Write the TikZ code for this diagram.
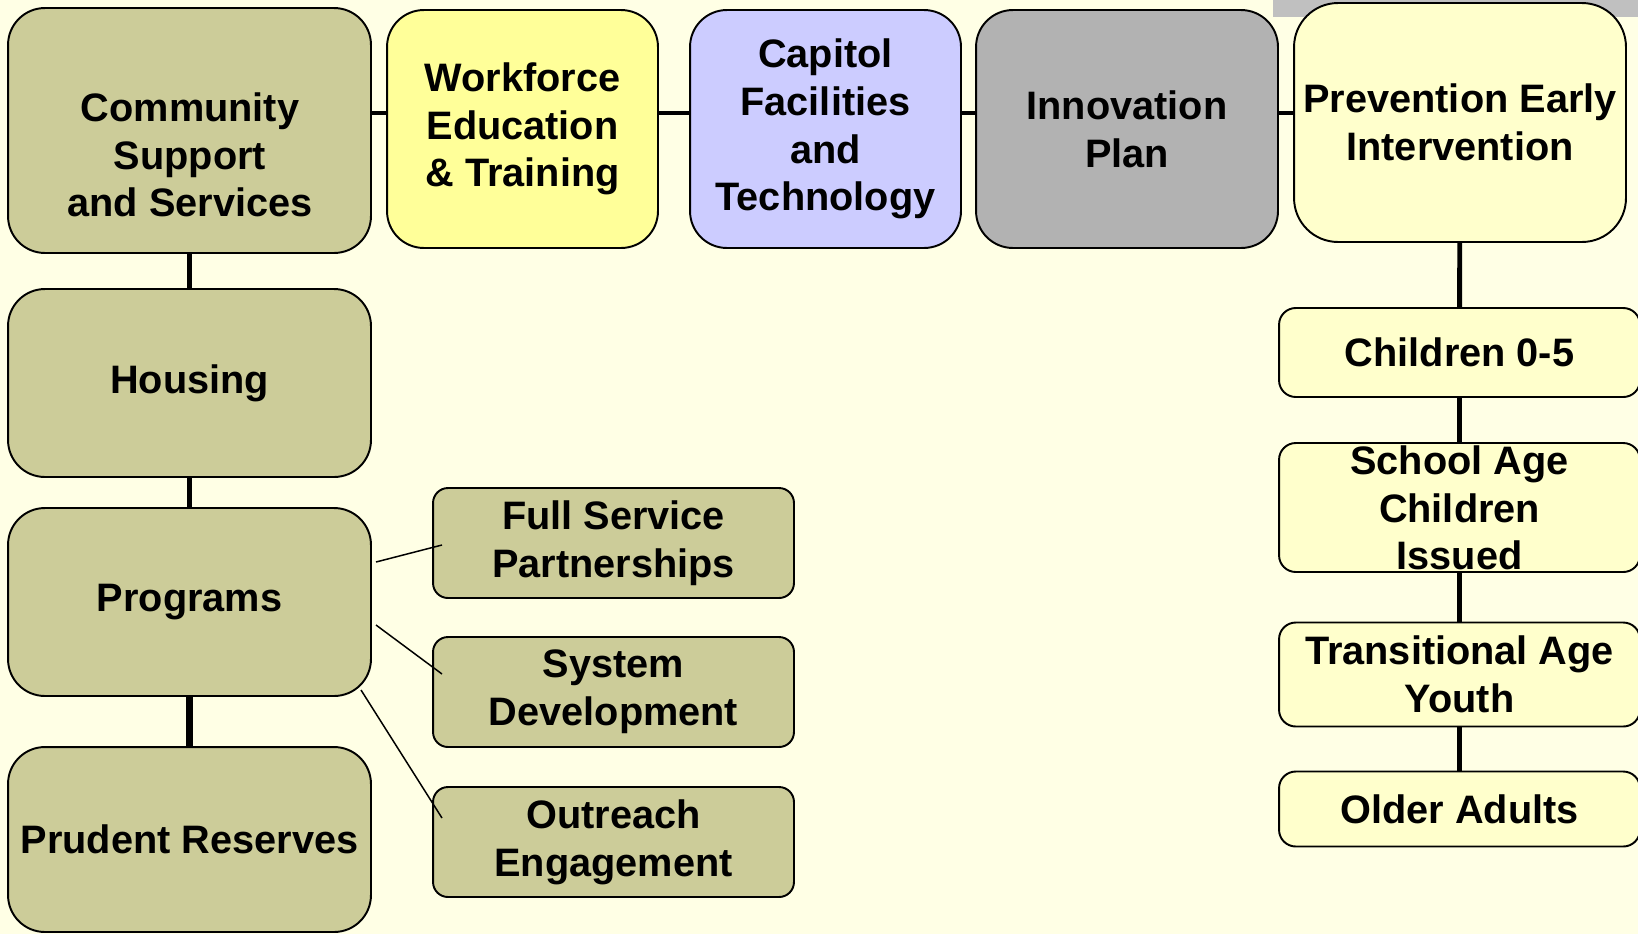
\documentclass[tikz,border=0pt]{standalone}
\usepackage{fontspec}
\setmainfont{Liberation Sans}
\definecolor{bgcream}{RGB}{255,255,229}
\definecolor{olivebox}{RGB}{204,204,153}
\definecolor{yellowbox}{RGB}{255,255,153}
\definecolor{lilacbox}{RGB}{204,204,255}
\definecolor{greybox}{RGB}{178,178,178}
\definecolor{greystrip}{RGB}{192,192,192}
\definecolor{paleyellow}{RGB}{255,255,204}
\newcommand{\boxfont}{\fontsize{22.6}{27.2}\selectfont\bfseries}

\begin{document}
\begin{tikzpicture}[x=0.02cm,y=-0.02cm,
    box/.style={draw,line width=1.1pt,rounded corners=21pt,align=center,inner sep=0pt,font=\boxfont},
    leftbox/.style={box,fill=olivebox,minimum width=7.26cm},
    topbox/.style={box,minimum width=5.42cm,minimum height=4.76cm},
    subbox/.style={box,fill=olivebox,rounded corners=8.5pt,minimum width=7.22cm,minimum height=2.2cm},
    agebox/.style={box,fill=paleyellow,rounded corners=9.5pt,minimum width=7.22cm},
    link/.style={line width=2.8pt},
    thin link/.style={line width=0.85pt}]
    \useasboundingbox (0,0) rectangle (1638,934);
    \fill[bgcream] (0,0) rectangle (1638,934);
    \fill[greystrip] (1273,0) rectangle (1638,17);
    %top row
    \node[leftbox,minimum height=4.9cm] (css) at (189.5,130.5) {};
    \node[font=\boxfont,align=center] (css-text) at (190,155) {Community\\Support\\and Services};
    \node[topbox,fill=yellowbox] (wet) at (522.5,129) {Workforce\\Education\\\& Training};
    \node[topbox,fill=lilacbox] (cft) at (825.5,129) {Capitol\\Facilities\\and\\Technology};
    \node[topbox,fill=greybox,minimum width=6.04cm] (inp) at (1127,129) {Innovation\\Plan};
    \node[box,fill=paleyellow,rounded corners=25pt,minimum width=6.64cm,minimum height=4.78cm] (pei) at (1460,122.5) {Prevention Early\\Intervention};
    %left column
    \node[leftbox,minimum height=3.76cm] (hou) at (189.5,383) {Housing};
    \node[leftbox,minimum height=3.76cm] (pro) at (189.5,602) {Programs};
    \node[leftbox,minimum height=3.7cm] (pre) at (189.5,839.5) {Prudent Reserves};
    %programs
    \node[subbox] (fsp) at (613.5,543) {Full Service\\Partnerships};
    \node[subbox] (sd) at (613.5,692) {System\\Development};
    \node[subbox] (oe) at (613.5,842) {Outreach\\Engagement};
    %age groups
    \node[agebox,minimum height=1.78cm] (c05) at (1459.5,352.5) {Children 0-5};
    \node[agebox,minimum height=2.58cm] (sac) at (1459.5,507.5) {};
    \node[font=\boxfont,align=center] (sac-text) at (1459.5,508) {School Age\\Children\\Issued};
    \node[agebox,minimum height=2.08cm] (tay) at (1459.5,674.5) {Transitional Age\\Youth};
    \node[agebox,minimum height=1.5cm] (oa) at (1459.5,809) {Older Adults};
    \coordinate (toprow) at (0,113);
    \draw[link] (css.east |- toprow) -- (wet.west |- toprow);
    \draw[link] (wet.east |- toprow) -- (cft.west |- toprow);
    \draw[link] (cft.east |- toprow) -- (inp.west |- toprow);
    \draw[link] (inp.east |- toprow) -- (pei.west |- toprow);
    \draw[link] (css) -- (hou);
    \draw[link,line width=3.4pt] (hou) -- (pro);
    \draw[link,line width=4.5pt] (pro) -- (pre);
    \draw[link] (pei) -- (c05);
    \draw[link] (c05) -- (sac);
    \draw[link] (sac) -- (tay);
    \draw[link] (tay) -- (oa);
    \coordinate (pro-a) at (376,562);
    \coordinate (pro-b) at (376,625);
    \coordinate (pro-c) at (361,690);
    \coordinate (fsp-in) at (442,545);
    \coordinate (sd-in) at (442,674);
    \coordinate (oe-in) at (442,818);
    \draw[thin link] (pro-a) -- (fsp-in);
    \draw[thin link] (pro-b) -- (sd-in);
    \draw[thin link] (pro-c) -- (oe-in);
\end{tikzpicture}
\end{document}
